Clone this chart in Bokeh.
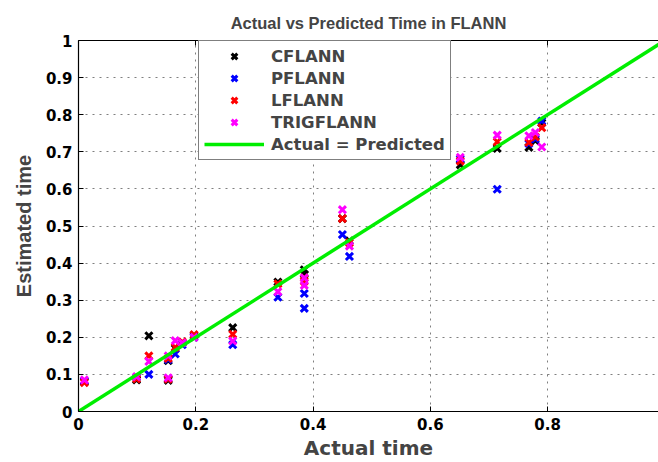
from bokeh.plotting import figure
from bokeh.models import (Range1d, FixedTicker, CustomJSTickFormatter, LinearAxis,
                          Legend, LegendItem, ColumnDataSource)
from bokeh.embed import file_html
from bokeh.resources import INLINE

# Actual run times of the test cases
actual = [0.010, 0.099, 0.120, 0.153, 0.153, 0.165, 0.177, 0.197, 0.263, 0.340,
          0.385, 0.385, 0.450, 0.462, 0.651, 0.714, 0.768, 0.779, 0.790]

# Times estimated by each network
cflann = [0.080, 0.085, 0.204, 0.084, 0.137, 0.170, 0.185, 0.205, 0.226, 0.349,
          0.382, 0.370, 0.520, 0.460, 0.665, 0.709, 0.712, 0.730, 0.778]
pflann = [0.082, 0.092, 0.100, 0.088, 0.140, 0.155, 0.180, 0.200, 0.180, 0.308,
          0.318, 0.278, 0.477, 0.418, 0.680, 0.599, 0.722, 0.735, 0.783]
lflann = [0.078, 0.088, 0.150, 0.087, 0.143, 0.173, 0.188, 0.207, 0.208, 0.344,
          0.351, 0.360, 0.520, 0.455, 0.675, 0.727, 0.725, 0.740, 0.765]
trigflann = [0.085, 0.094, 0.135, 0.091, 0.150, 0.191, 0.185, 0.200, 0.190, 0.323,
             0.360, 0.340, 0.544, 0.446, 0.685, 0.745, 0.743, 0.752, 0.713]

series_names = ["CFLANN", "PFLANN", "LFLANN", "TRIGFLANN"]
series_values = [cflann, pflann, lflann, trigflann]
series_colors = ["black", "blue", "red", "magenta"]

# Reference line: actual = predicted
ideal_x = [0.0, 1.0]
ideal_y = [0.0, 1.0]

x_ticks = [0, 0.2, 0.4, 0.6, 0.8, 1.0]
y_ticks = [0, 0.1, 0.2, 0.3, 0.4, 0.5, 0.6, 0.7, 0.8, 0.9, 1.0]

FONT = "DejaVu Sans"

p = figure(width=658, height=462, output_backend="svg", toolbar_location=None,
           x_range=Range1d(0, 0.989), y_range=Range1d(0, 1),
           x_axis_location=None, y_axis_location=None,
           min_border_left=78, min_border_right=0, min_border_top=40,
           min_border_bottom=47, background_fill_color="white",
           border_fill_color="white", outline_line_color=None)

p.title.text = "Actual vs Predicted Time in FLANN"
p.title.text_font = "Liberation Sans"
p.title.text_font_size = "16.5px"
p.title.text_font_style = "bold"
p.title.align = "center"
p.title.standoff = 18

num_fmt = CustomJSTickFormatter(code="return Number(tick.toFixed(2)).toString();")
blank_fmt = CustomJSTickFormatter(code="return '';")

def style_axis(ax, show_labels=True):
    ax.axis_line_color = "black"
    ax.axis_line_width = 1.2
    ax.major_tick_in = 5
    ax.major_tick_out = 0
    ax.major_tick_line_color = "black"
    ax.minor_tick_line_color = None
    ax.major_label_text_font = FONT
    ax.major_label_text_font_style = "bold"
    ax.major_label_text_color = "black"
    ax.major_label_text_font_size = "15px"
    if show_labels:
        ax.formatter = num_fmt
        ax.major_label_standoff = 6
    else:
        ax.formatter = blank_fmt
        ax.major_label_standoff = 0

xaxis = LinearAxis(ticker=FixedTicker(ticks=x_ticks), axis_label="Actual time")
style_axis(xaxis)
xaxis.axis_label_text_font = FONT
xaxis.axis_label_text_font_size = "20px"
xaxis.axis_label_text_font_style = "bold"
xaxis.axis_label_standoff = 3
p.add_layout(xaxis, "below")

yaxis = LinearAxis(ticker=FixedTicker(ticks=y_ticks), axis_label="Estimated time")
style_axis(yaxis)
yaxis.axis_label_text_font = "Liberation Sans"
yaxis.axis_label_text_font_size = "20px"
yaxis.axis_label_text_font_style = "bold"
yaxis.axis_label_standoff = 8
p.add_layout(yaxis, "left")

topaxis = LinearAxis(ticker=FixedTicker(ticks=x_ticks))
style_axis(topaxis, show_labels=False)
p.add_layout(topaxis, "above")

# Dotted grid
for g, t in ((p.xgrid, x_ticks), (p.ygrid, y_ticks)):
    g.ticker = FixedTicker(ticks=t)
    g.grid_line_color = "black"
    g.grid_line_alpha = 0.5
    g.grid_line_dash = "2 5"
    g.grid_line_width = 1

items = []
for name, vals, col in zip(series_names, series_values, series_colors):
    src = ColumnDataSource(dict(x=actual, y=vals))
    r = p.scatter("x", "y", source=src, marker="x", size=10, line_width=3,
                  line_color=col)
    items.append(LegendItem(label=name, renderers=[r]))

line = p.line(ideal_x, ideal_y, line_color="#00ee00", line_width=3.5)
items.append(LegendItem(label="Actual = Predicted", renderers=[line]))

legend = Legend(items=items, location=(120, 251))
legend.label_text_font = FONT
legend.label_text_font_size = "16.5px"
legend.label_text_font_style = "bold"
legend.label_height = 20
legend.glyph_height = 20
legend.glyph_width = 60
legend.spacing = 2
legend.padding = 5
legend.margin = 0
legend.label_standoff = 7
legend.border_line_color = "black"
legend.border_line_width = 1
legend.background_fill_color = "white"
legend.background_fill_alpha = 1
p.add_layout(legend, "center")

open("out.html", "w").write(file_html(p, INLINE))
